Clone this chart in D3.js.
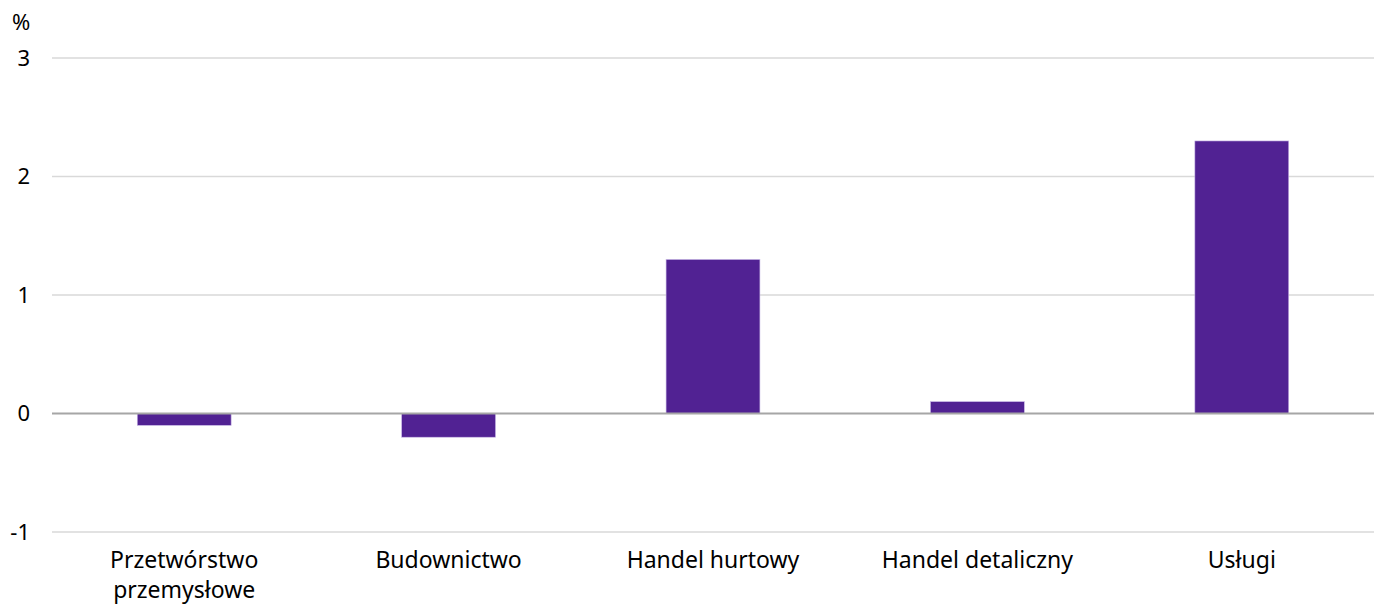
<!DOCTYPE html>
<html><head><meta charset="utf-8">
<script src="https://cdn.jsdelivr.net/npm/d3@7"></script>
<style>body{margin:0;background:#fff}svg{display:block}text{font-family:"Noto Sans","Open Sans",sans-serif;fill:#000}</style>
</head><body>
<svg id="c" width="1384" height="610"></svg>
<script>
const categories = [["Przetwórstwo","przemysłowe"],["Budownictwo"],["Handel hurtowy"],["Handel detaliczny"],["Usługi"]];
const values = [-0.1, -0.2, 1.3, 0.1, 2.3];
const yTicks = [-1, 0, 1, 2, 3];
const unitLabel = "%";

const svg = d3.select("#c");
const L = 52, R = 1374, T = 58, B = 532;
const x = d3.scaleBand().domain(d3.range(categories.length)).range([L, R]).paddingInner(0.645).paddingOuter(0.3225);
const y = d3.scaleLinear().domain([-1, 3]).range([B, T]);

svg.append("g").selectAll("line").data(yTicks.filter(d => d !== 0)).join("line")
  .attr("x1", L).attr("x2", R).attr("y1", d => y(d)).attr("y2", d => y(d))
  .attr("stroke", "#d9d9d9").attr("stroke-width", 1.5);

svg.append("g").selectAll("text").data(yTicks).join("text")
  .attr("x", 30).attr("y", d => y(d)).attr("dy", "0.35em").attr("text-anchor", "end")
  .attr("font-size", 22).text(d => d);

svg.append("text").attr("x", 12).attr("y", 22).attr("dy", "0.35em").attr("font-size", 22).text(unitLabel);

svg.append("g").selectAll("rect").data(values).join("rect")
  .attr("x", (d, i) => x(i)).attr("width", x.bandwidth())
  .attr("y", d => y(Math.max(0, d))).attr("height", d => Math.abs(y(d) - y(0)))
  .attr("fill", "#512293").attr("stroke", "#c8b8e6").attr("stroke-width", 0.6);

svg.append("line").attr("x1", L).attr("x2", R).attr("y1", y(0)).attr("y2", y(0))
  .attr("stroke", "#a6a6a6").attr("stroke-width", 2);

const lab = svg.append("g").selectAll("text").data(categories).join("text")
  .attr("x", (d, i) => x(i) + x.bandwidth() / 2).attr("y", 568)
  .attr("text-anchor", "middle").attr("font-size", 23);
lab.selectAll("tspan").data(d => d).join("tspan")
  .attr("x", function() { return d3.select(this.parentNode).attr("x"); })
  .attr("dy", (d, i) => i === 0 ? 0 : 30).text(d => d);
</script>
</body></html>
